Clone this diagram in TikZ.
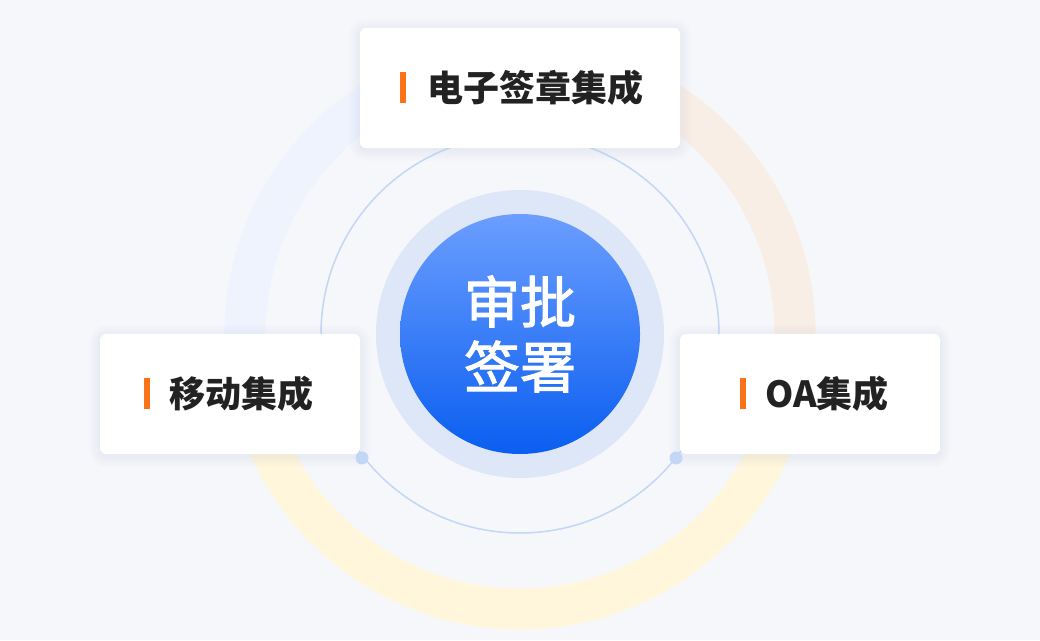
\documentclass[tikz,border=0pt]{standalone}
\usepackage{fontspec}
\newfontfamily\cjk{Noto Sans CJK SC}
\newfontfamily\cjkmed{Noto Sans CJK SC}[FakeBold=2]
\definecolor{bg}{HTML}{F5F7FA}
\definecolor{ringblue}{HTML}{EEF3FD}
\definecolor{ringpeach}{HTML}{F8EEE6}
\definecolor{ringyellow}{HTML}{FFF6DC}
\definecolor{halo}{HTML}{DEE7F8}
\definecolor{thinline}{HTML}{C2D6F6}
\definecolor{gradtop}{HTML}{6B9EFF}
\definecolor{gradbot}{HTML}{0A5EF0}
\definecolor{barorange}{HTML}{FA7319}
\definecolor{txt}{HTML}{222222}
\definecolor{shadowc}{HTML}{7F8FB5}
\tikzset{
  card/.style={fill=white, rounded corners=6pt, draw=none},
  shadowlayer/.style={fill=shadowc, fill opacity=0.012, draw=none},
  bar/.style={fill=barorange, draw=none},
  label/.style={anchor=west, inner sep=0pt, text=txt, font=\cjk\bfseries\fontsize{36}{40}\selectfont},
  ring/.style={line width=41pt, line cap=butt},
  dotc/.style={circle, fill=thinline, inner sep=0pt, minimum size=13pt}
}
\newcommand{\mycard}[4]{%
  \foreach \s in {1,3,5,7,9,11}{%
    \fill[shadowlayer, rounded corners=\s pt+6pt] (#1-\s,#2-\s-2) rectangle (#3+\s,#4+\s-2);
  }%
  \fill[card] (#1,#2) rectangle (#3,#4);
}
\begin{document}
\begin{tikzpicture}[x=1pt,y=1pt]
\fill[bg] (0,0) rectangle (1040,640);
\useasboundingbox (0,0) rectangle (1040,640);
\coordinate (c) at (520,306);
% outer ring segments
\draw[ring, ringpeach] ([shift={(0:275)}]c) arc[start angle=0, end angle=90, radius=275];
\draw[ring, ringblue] ([shift={(90:275)}]c) arc[start angle=90, end angle=180, radius=275];
\draw[ring, ringyellow] ([shift={(180:275)}]c) arc[start angle=180, end angle=360, radius=275];
% thin circle
\draw[thinline, line width=1.5pt] (c) circle[radius=199];
% halo and core
\fill[halo] (c) circle[radius=144];
\shade[top color=gradtop, bottom color=gradbot] (c) circle[radius=120];
\node[inner sep=0pt, align=center, text=white, font=\cjkmed\fontsize{56}{65}\selectfont] (core) at (520,306) {审批\\签署};
% cards
\mycard{360}{492}{680}{612}
\mycard{100}{186}{360}{306}
\mycard{680}{186}{940}{306}
\node[dotc] (d1) at (362,182) {};
\node[dotc] (d2) at (676,182) {};
\fill[bar] (400,537) rectangle (406,568);
\fill[bar] (144,231) rectangle (150,262);
\fill[bar] (740,231) rectangle (746,262);
\node[label] (t1) at (427,552) {电子签章集成};
\node[label] (t2) at (169,246) {移动集成};
\node[label] (t3) at (765,246) {OA集成};
\end{tikzpicture}
\end{document}
